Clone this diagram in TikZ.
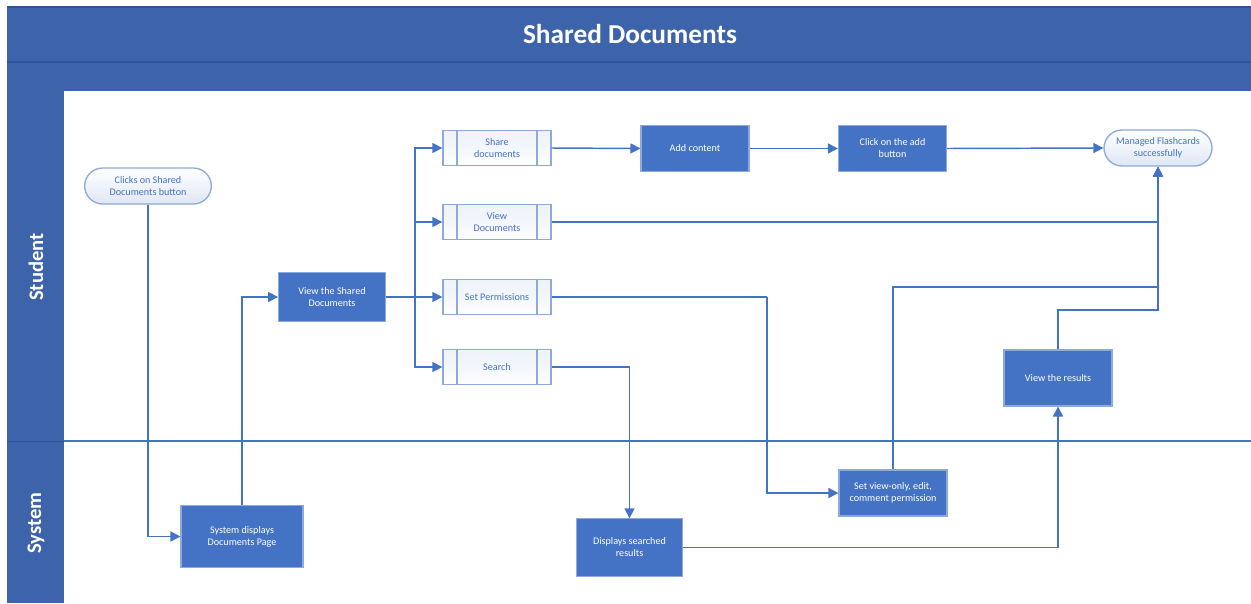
\documentclass[tikz,border=0pt]{standalone}
\usepackage{fontspec}
\setmainfont{Carlito}
\usetikzlibrary{arrows.meta,positioning,calc}
\definecolor{hdr}{HTML}{3D64AA}
\definecolor{hdrline}{HTML}{2F5597}
\definecolor{boxblue}{HTML}{4472C4}
\definecolor{lightb}{HTML}{8EA9DB}
\definecolor{palefill}{HTML}{F3F6FC}
\tikzset{
  flowline/.style={draw=boxblue,line width=1.1pt},
  flow/.style={flowline,-{Triangle[length=7.5pt,width=7.5pt]}},
  procbox/.style={draw=lightb,line width=0.8pt,fill=boxblue,text=white,font=\fontsize{7.6}{9}\selectfont,align=center,inner sep=0pt},
  subproc/.style={draw=lightb,line width=1pt,left color=palefill!60!boxblue!20,right color=white,middle color=palefill,shading angle=0,text=boxblue,font=\fontsize{7.6}{9}\selectfont,align=center,inner sep=0pt,minimum width=81pt,minimum height=26.5pt,
    path picture={\draw[lightb,line width=1pt] ([xshift=10.5pt]path picture bounding box.north west) -- ([xshift=10.5pt]path picture bounding box.south west);
      \draw[lightb,line width=1pt] ([xshift=-10.5pt]path picture bounding box.north east) -- ([xshift=-10.5pt]path picture bounding box.south east);}},
  termbox/.style={draw=lightb,line width=1pt,top color=white,bottom color=palefill!80!lightb,text=boxblue,font=\fontsize{7.6}{9}\selectfont,align=center,inner sep=0pt,minimum width=95pt,minimum height=27pt,rounded corners=13.5pt},
}
\begin{document}
\begin{tikzpicture}[x=0.75pt,y=-0.75pt]
\useasboundingbox (0,0) rectangle (1251,603);
\fill[white] (0,0) rectangle (1251,603);
% header bars
\fill[hdr] (7,7) rectangle (1251,91);
\draw[hdrline,line width=1pt] (7,62) -- (1251,62);
\draw[hdrline,line width=0.8pt] (7,7) -- (1251,7);
\node[font=\fontsize{20.5}{23}\selectfont\bfseries,text=white] (title) at (630,34) {Shared Documents};
% lane headers
\fill[hdr] (7,91) rectangle (64,603);
\draw[hdrline,line width=0.6pt] (7,441) -- (64,441);
\node[rotate=90,font=\fontsize{15.5}{18}\selectfont\bfseries,text=white] (lstudent) at (36,267) {Student};
\node[rotate=90,font=\fontsize{15.5}{18}\selectfont\bfseries,text=white] (lsystem) at (36,523) {System};
\draw[boxblue,line width=1pt] (64,441) -- (1251,441);
% nodes
\node[termbox] (start) at (148,186) {Clicks on Shared\\Documents button};
\node[procbox,minimum width=80pt,minimum height=37pt] (viewshared) at (332,297) {View the Shared\\Documents};
\node[subproc] (share) at (497,148) {Share\\documents};
\node[subproc] (viewdocs) at (497,222) {View\\Documents};
\node[subproc] (setperm) at (497,297) {Set Permissions};
\node[subproc] (search) at (497,367) {Search};
\node[procbox,minimum width=81pt,minimum height=34pt] (addc) at (695,148.5) {Add content};
\node[procbox,minimum width=81pt,minimum height=34pt] (clickadd) at (892.5,148.5) {Click on the add\\button};
\node[termbox,minimum width=81pt] (managed) at (1158,148) {Managed Flashcards\\successfully};
\node[procbox,minimum width=81pt,minimum height=42pt] (viewres) at (1058,378) {View the results};
\node[procbox,minimum width=91.5pt,minimum height=47pt] (sysdisp) at (242,536.5) {System displays\\Documents Page};
\node[procbox,minimum width=80pt,minimum height=43pt] (dispsearch) at (629.5,547.5) {Displays searched\\results};
\node[procbox,minimum width=81pt,minimum height=34.5pt] (setview) at (893,493) {Set view-only, edit,\\comment permission};
% coordinates
\coordinate (split) at (415,297);
\coordinate (pbend) at (767,297);
\coordinate (j1) at (1158,287);
\coordinate (j2) at (1158,310);
% connectors
\draw[flow] (start.south) |- (sysdisp.west);
\draw[flow] (sysdisp.north) |- (viewshared.west);
\draw[flowline] (viewshared.east) -- (split);
\draw[flow] (split) |- (share.west);
\draw[flow] (split) |- (viewdocs.west);
\draw[flow] (split) -- (setperm.west);
\draw[flow] (split) |- (search.west);
\draw[flow] (share.east) -- (addc.west);
\draw[flow] (addc.east) -- (clickadd.west);
\draw[flow] (clickadd.east) -- (managed.west);
\draw[flow] (viewdocs.east) -| (managed.south);
\draw[flowline] (setperm.east) -- (pbend);
\draw[flow] (pbend) |- (setview.west);
\draw[flow] (search.east) -| (dispsearch.north);
\draw[flow] (setview.north) |- (j1) -- (managed.south);
\draw[flow] (dispsearch.east) -| (viewres.south);
\draw[flow] (viewres.north) |- (j2) -- (managed.south);
\end{tikzpicture}
\end{document}
